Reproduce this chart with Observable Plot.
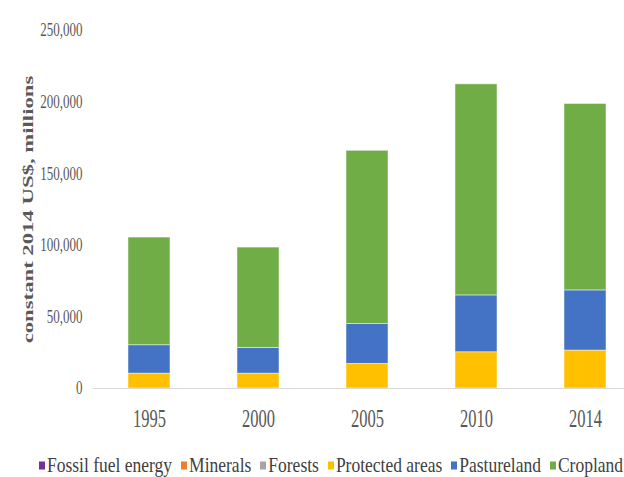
<!DOCTYPE html>
<html>
<head>
<meta charset="utf-8">
<script src="https://cdn.jsdelivr.net/npm/d3@7"></script>
<script src="https://cdn.jsdelivr.net/npm/@observablehq/plot@0.6"></script>
<style>
  html, body { margin: 0; padding: 0; background: #fff; }
  #chart { width: 624px; }
  .lg-swatches { font-family: 'Liberation Serif', serif !important; font-size: 17.5px !important; color: #404040 !important; padding-left: 39px; margin: 7px 0 0 0 !important; transform: scaleY(1.15); transform-origin: center; flex-wrap: nowrap !important; white-space: nowrap; }
  .lg-swatches * { font-family: 'Liberation Serif', serif !important; }
  .lg-swatch { margin-right: 9px !important; }
  .lg-swatch > svg { margin-right: 2px !important; }
</style>
</head>
<body>
<div id="chart"></div>
<script>
const years = ["1995", "2000", "2005", "2010", "2014"];
const seriesNames = ["Fossil fuel energy", "Minerals", "Forests", "Protected areas", "Pastureland", "Cropland"];
const seriesColors = ["#7030A0", "#ED7D31", "#A5A5A5", "#FFC000", "#4472C4", "#70AD47"];
const fossilFuel = [0, 0, 0, 0, 0];
const minerals = [0, 0, 0, 0, 0];
const forests = [0, 0, 0, 0, 0];
const protectedAreas = [10400, 10400, 17200, 25300, 26500];
const pastureland = [19800, 17900, 27800, 39700, 42000];
const cropland = [75200, 70100, 121000, 147400, 130200];
const yTicks = [0, 50000, 100000, 150000, 200000, 250000];
const yTitle = "constant 2014 US$, millions";

const seriesValues = [fossilFuel, minerals, forests, protectedAreas, pastureland, cropland];
const rows = [];
seriesNames.forEach((s, si) => years.forEach((y, yi) => rows.push({year: y, series: s, value: seriesValues[si][yi]})));

const plot = Plot.plot({
  width: 624,
  height: 442,
  marginLeft: 93,
  marginRight: 0,
  marginTop: 30,
  marginBottom: 54,
  style: {fontFamily: "'Liberation Serif', serif", color: "#595959", background: "white", overflow: "visible"},
  x: {domain: years, range: [93.4, 639.6], paddingInner: 0.615, paddingOuter: 0.3075, label: null},
  y: {domain: [0, 250000], label: null},
  color: {domain: seriesNames, range: seriesColors},
  marks: [
    Plot.barY(rows.filter(d => d.value > 0), {x: "year", y: "value", fill: "series", order: seriesNames, stroke: "white", strokeOpacity: 0.6, strokeWidth: 0.8}),
    Plot.ruleY([0], {stroke: "#d9d9d9", strokeWidth: 1}),
    Plot.axisY({ticks: yTicks, tickFormat: d3.format(","), tickSize: 0, tickPadding: 11, fontSize: 13, label: null}),
    Plot.axisX({tickSize: 0, tickPadding: 24, fontSize: 16.5, label: null}),
    Plot.text([yTitle], {frameAnchor: "left", textAnchor: "middle", lineAnchor: "middle", rotate: -90, dx: -65, fontWeight: "bold", fontSize: 15, fill: "#595959"})
  ]
});

const chart = document.getElementById("chart");
chart.appendChild(plot);
const legend = plot.legend("color", {swatchWidth: 6, swatchHeight: 7, className: "lg"});
chart.appendChild(legend);

function stretch(text, sx, sy) {
  const b = text.getBBox();
  const cx = b.x + b.width / 2, cy = b.y + b.height / 2;
  const t = text.getAttribute("transform") || "";
  text.setAttribute("transform", `${t} translate(${cx},${cy}) scale(${sx},${sy}) translate(${-cx},${-cy})`);
}
plot.querySelectorAll('[aria-label="y-axis tick label"] text').forEach(t => stretch(t, 1, 1.4));
plot.querySelectorAll('[aria-label="x-axis tick label"] text').forEach(t => stretch(t, 1, 1.5));
plot.querySelectorAll('[aria-label="text"] text').forEach(t => {
  const w = t.getBBox().width;
  stretch(t, 268 / w, 1);
});
</script>
</body>
</html>
